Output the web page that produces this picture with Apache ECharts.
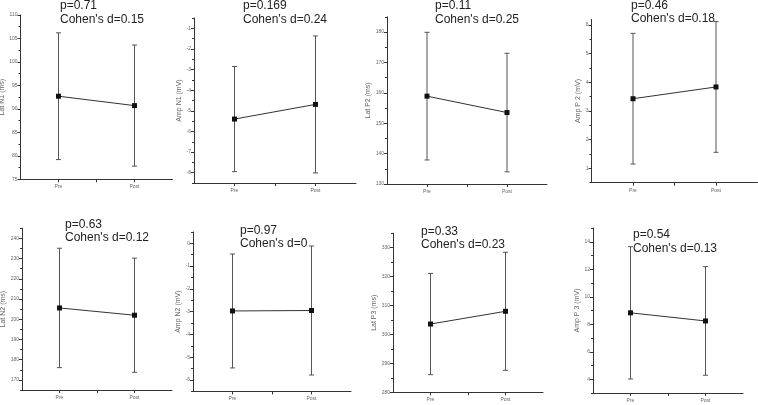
<!DOCTYPE html>
<html>
<head>
<meta charset="utf-8">
<script src="https://cdn.jsdelivr.net/npm/echarts@6/dist/echarts.min.js"></script>
<style>
html,body{margin:0;padding:0;background:#fff;}
#chart{width:758px;height:405px;}
</style>
</head>
<body>
<div id="chart"></div>
<script>
// ---- data ----
const categories = ['Pre', 'Post'];
const yNames = ['Lat N1 (ms)', 'Amp N1 (mV)', 'Lat P2 (ms)', 'Amp P 2 (mV)',
                'Lat N2 (ms)', 'Amp N2 (mV)', 'Lat P3 (ms)', 'Amp P 3 (mV)'];
const preMeans  = [92.7, -5.40, 158.9, 3.43, 205.6, -2.97, 303.6, 8.83];
const postMeans = [90.7, -4.69, 153.5, 3.84, 202.0, -2.95, 308.0, 8.24];
const preErr    = [13.5, 2.55, 21.0, 2.28, 29.5, 2.50, 17.5, 4.81];
const postErr   = [12.9, 3.32, 19.5, 2.28, 28.2, 2.83, 20.4, 3.95];
const pValues   = ['0.71', '0.169', '0.11', '0.46', '0.63', '0.97', '0.33', '0.54'];
const dValues   = ['0.15', '0.24', '0.25', '0.18', '0.12', '0', '0.23', '0.13'];
const yMin = [75, -8.5, 130, 0.5, 165, -6.5, 280, 3];
const yMax = [110, -0.5, 185, 6.2, 245, 0.5, 335, 15];
const yTickLabels = [
  [75, 80, 85, 90, 95, 100, 105, 110],
  [-8, -7, -6, -5, -4, -3, -2, -1],
  [130, 140, 150, 160, 170, 180],
  [1, 2, 3, 4, 5, 6],
  [170, 180, 190, 200, 210, 220, 230, 240],
  [-6, -5, -4, -3, -2, -1, 0],
  [280, 290, 300, 310, 320, 330],
  [4, 6, 8, 10, 12, 14]
];

// ---- layout ----
const grids = [
  {left: 20.5, top: 15,    width: 152, height: 164.3},
  {left: 194,  top: 18,    width: 162, height: 165},
  {left: 387,  top: 16.8,  width: 160, height: 167.2},
  {left: 591.5,top: 19.3,  width: 166, height: 163.4},
  {left: 22,   top: 228.2, width: 150, height: 161.9},
  {left: 193,  top: 231.9, width: 158, height: 159.5},
  {left: 393,  top: 233.2, width: 150, height: 159.1},
  {left: 593,  top: 228,   width: 150, height: 165}
];
const nameGaps = [12.5, 10.5, 10.8, 8.5, 12.5, 9.5, 12.5, 9.5];
const annot = [
  [60, 5, 19], [243, 5, 19], [435, 5, 19], [631, 5, 18.5],
  [65, 224, 237.5], [240, 230, 243.5], [421, 231, 244.5], [633, 234, 248]
];

const AXIS_COLOR = '#333';
const LABEL_COLOR = '#666';

function minorTicks(i) {
  const maj = yTickLabels[i];
  const step = maj[1] - maj[0];
  const out = [];
  const first = maj[0] - step / 2;
  if (first >= yMin[i]) out.push(first);
  for (let k = 0; k < maj.length - 1; k++) out.push((maj[k] + maj[k + 1]) / 2);
  const last = maj[maj.length - 1] + step / 2;
  if (last <= yMax[i] + 1e-9) out.push(last);
  return out;
}

const option = {
  animation: false,
  backgroundColor: '#fff',
  grid: [], xAxis: [], yAxis: [], series: [], graphic: []
};

for (let i = 0; i < 8; i++) {
  option.grid.push(Object.assign({outerBoundsMode: 'none', containLabel: false}, grids[i]));
  option.xAxis.push({
    type: 'value', gridIndex: i, min: 0.5, max: 2.5, position: 'bottom',
    splitLine: {show: false},
    axisLine: {show: true, onZero: false, lineStyle: {color: AXIS_COLOR, width: 1}},
    axisTick: {show: true, length: 3, lineStyle: {color: AXIS_COLOR}, customValues: [1, 1.5, 2]},
    axisLabel: {show: true, customValues: [1, 2], fontSize: 5, color: LABEL_COLOR, margin: 5,
      fontFamily: 'Liberation Sans',
      formatter: v => categories[Math.round(v) - 1] || ''}
  });
  // main y axis
  option.yAxis.push({
    type: 'value', gridIndex: i, min: yMin[i], max: yMax[i], position: 'left',
    name: yNames[i], nameLocation: 'middle', nameGap: nameGaps[i],
    nameTextStyle: {fontSize: 7, color: LABEL_COLOR, fontFamily: 'Liberation Sans'},
    splitLine: {show: false},
    axisLine: {show: true, onZero: false, lineStyle: {color: AXIS_COLOR, width: 1}},
    axisTick: {show: true, length: 3, lineStyle: {color: AXIS_COLOR}, customValues: yTickLabels[i]},
    axisLabel: {show: true, customValues: yTickLabels[i], fontSize: 5, color: LABEL_COLOR, margin: 3,
      fontFamily: 'Liberation Sans'}
  });
  // minor ticks
  option.yAxis.push({
    type: 'value', gridIndex: i, min: yMin[i], max: yMax[i], position: 'left', offset: 0,
    splitLine: {show: false},
    axisLine: {show: false, onZero: false},
    axisTick: {show: true, length: 2, lineStyle: {color: AXIS_COLOR}, customValues: minorTicks(i)},
    axisLabel: {show: false}
  });

  const errData = [[1, preMeans[i], preErr[i]], [2, postMeans[i], postErr[i]]];
  option.series.push({
    type: 'custom', xAxisIndex: i, yAxisIndex: 2 * i, z: 2,
    data: errData,
    renderItem: function (params, api) {
      const x = api.value(0), m = api.value(1), e = api.value(2);
      const top = api.coord([x, m + e]);
      const bot = api.coord([x, m - e]);
      const cw = 2.5;
      const style = {stroke: '#555', lineWidth: 1};
      return {
        type: 'group',
        children: [
          {type: 'line', shape: {x1: top[0], y1: top[1], x2: bot[0], y2: bot[1]}, style: style},
          {type: 'line', shape: {x1: top[0] - cw, y1: top[1], x2: top[0] + cw, y2: top[1]}, style: style},
          {type: 'line', shape: {x1: bot[0] - cw, y1: bot[1], x2: bot[0] + cw, y2: bot[1]}, style: style}
        ]
      };
    }
  });
  option.series.push({
    type: 'line', xAxisIndex: i, yAxisIndex: 2 * i, z: 3,
    data: [[1, preMeans[i]], [2, postMeans[i]]],
    symbol: 'rect', symbolSize: 5,
    itemStyle: {color: '#111'},
    lineStyle: {color: '#333', width: 1}
  });

  const a = annot[i];
  option.graphic.push({
    type: 'text', left: a[0], top: a[1] - 5.5, silent: true,
    style: {text: 'p=' + pValues[i], font: '12px "Liberation Sans", Arial', fill: '#222'}
  });
  option.graphic.push({
    type: 'text', left: a[0], top: a[2] - 5.5, silent: true,
    style: {text: "Cohen's d=" + dValues[i], font: '12px "Liberation Sans", Arial', fill: '#222'}
  });
}

const chart = echarts.init(document.getElementById('chart'), null, {renderer: 'canvas'});
chart.setOption(option);
</script>
</body>
</html>
